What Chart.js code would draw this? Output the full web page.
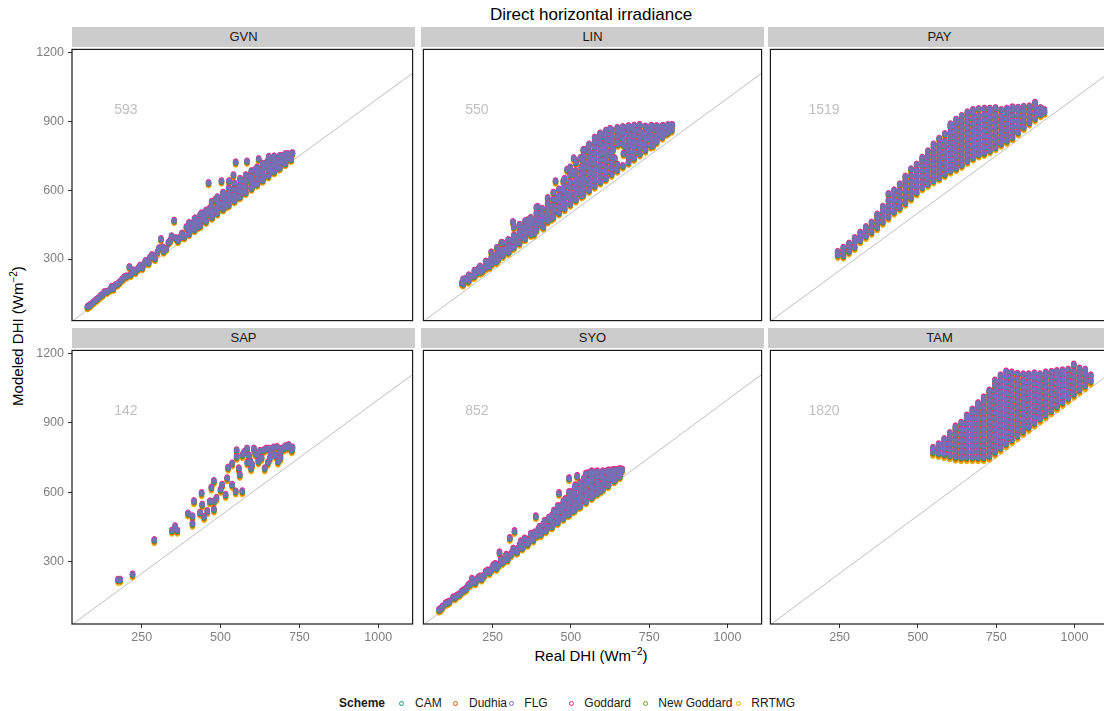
<!DOCTYPE html>
<html><head><meta charset="utf-8">
<script src="https://cdn.jsdelivr.net/npm/chart.js@4"></script>
<style>
html,body{margin:0;padding:0;background:#fff;overflow:hidden;}
#page{position:relative;width:1104px;height:711px;overflow:hidden;font-family:"Liberation Sans",Arial,sans-serif;background:#fff;}
.strip{position:absolute;height:20px;background:#cccccc;color:#1a1a1a;font-size:13px;text-align:center;line-height:20px;}
canvas{position:absolute;}
.txt{position:absolute;white-space:nowrap;}
.lg{position:absolute;font-size:12px;line-height:16px;top:695px;color:#1a1a1a;white-space:nowrap;}
.dot{position:absolute;width:3px;height:3px;border-radius:50%;top:700.5px;border:1px solid;box-sizing:content-box;}
</style></head>
<body><div id="page"></div>
<script>
// ---------- categories / labels ----------
const stations = ['GVN','LIN','PAY','SAP','SYO','TAM'];
const obsCounts = [593,550,1519,142,852,1820];
const schemes = ['CAM','Dudhia','FLG','Goddard','New Goddard','RRTMG'];
const xTicks = [250,500,750,1000];
const yTicks = [300,600,900,1200];
const identityLine = [0,1300];

// ---------- GVN ----------
const gvnReal = [78,88,105,120,132,150,160,168,180,195,211,215,230,245,252,262,272,282,292,305,311,320,335,345,353,365,378,385,392,402,410,420,430,440,450,462,466,474,484,494,503,508,518,527,534,541,548,556,564,574,584,590,600,610,621,630,640,653,660,672,684,694,704,714,722,728,
 84,96,112,126,140,155,174,188,202,222,238,258,276,288,300,316,328,340,358,372,396,414,426,446,458,470,488,498,514,524,538,552,560,570,580,596,606,616,626,636,646,656,666,678,690,700,710,720,
 400,400,400,418,418,418,436,436,436,454,454,454,472,472,472,472,490,490,490,490,508,508,508,508,526,526,526,526,544,544,544,544,562,562,562,562,580,580,580,580,598,598,598,598,616,616,616,616,634,634,634,634,652,652,652,652,670,670,670,670,688,688,688,706,706,706,724,724];
const gvnFLG = [92,102,122,140,157,168,172,188,200,222,266,232,245,272,262,292,284,318,302,348,388,334,372,400,468,380,412,396,440,418,456,478,442,500,470,632,522,486,560,526,640,582,532,640,602,666,722,570,642,612,726,662,614,690,736,644,706,746,682,732,696,750,716,758,736,762,
 98,112,130,146,158,180,192,212,226,252,258,280,306,312,330,352,346,380,392,396,428,436,462,476,500,510,514,540,556,580,566,600,620,590,640,648,630,670,690,660,720,700,710,720,730,740,735,752,
 410,434,458,428,452,476,446,470,494,464,488,512,482,506,530,550,500,524,548,570,518,542,566,590,536,560,584,610,554,578,602,630,572,596,620,650,590,614,638,666,608,632,656,684,626,650,674,700,644,668,692,716,662,686,710,735,680,704,728,748,698,722,750,716,740,758,734,758];
const gvnCAM = [89,99,119,137,154,165,169,185,197,219,263,229,242,269,259,289,281,315,299,345,385,331,369,397,465,377,409,393,437,415,453,475,439,497,467,629,519,483,557,523,637,579,529,637,599,663,719,567,639,609,723,659,611,687,733,641,703,743,679,729,693,747,713,755,733,759,
 95,109,127,143,155,177,189,209,223,249,255,277,303,309,327,349,343,377,389,393,425,433,459,473,497,507,511,537,553,577,563,597,617,587,637,645,627,667,687,657,717,697,707,717,727,737,732,749,
 407,431,455,425,449,473,443,467,491,461,485,509,479,503,527,547,497,521,545,567,515,539,563,587,533,557,581,607,551,575,599,627,569,593,617,647,587,611,635,663,605,629,653,681,623,647,671,697,641,665,689,713,659,683,707,732,677,701,725,745,695,719,747,713,737,755,731,755];
const gvnDudhia = [85,95,115,133,150,161,165,181,193,215,259,225,238,265,255,285,277,311,295,341,381,327,365,393,461,373,405,389,433,411,449,471,435,493,463,625,515,479,553,519,633,575,525,633,595,659,715,563,635,605,719,655,607,683,729,637,699,739,675,725,689,743,709,751,729,755,
 91,105,123,139,151,173,185,205,219,245,251,273,299,305,323,345,339,373,385,389,421,429,455,469,493,503,507,533,549,573,559,593,613,583,633,641,623,663,683,653,713,693,703,713,723,733,728,745,
 403,427,451,421,445,469,439,463,487,457,481,505,475,499,523,543,493,517,541,563,511,535,559,583,529,553,577,603,547,571,595,623,565,589,613,643,583,607,631,659,601,625,649,677,619,643,667,693,637,661,685,709,655,679,703,728,673,697,721,741,691,715,743,709,733,751,727,751];
const gvnGoddard = [96,106,126,144,161,172,176,192,204,226,270,236,249,276,266,296,288,322,306,352,392,338,376,404,472,384,416,400,444,422,460,482,446,504,474,636,526,490,564,530,644,586,536,644,606,670,726,574,646,616,730,666,618,694,740,648,710,750,686,736,700,754,720,762,740,766,
 102,116,134,150,162,184,196,216,230,256,262,284,310,316,334,356,350,384,396,400,432,440,466,480,504,514,518,544,560,584,570,604,624,594,644,652,634,674,694,664,724,704,714,724,734,744,739,756,
 414,438,462,432,456,480,450,474,498,468,492,516,486,510,534,554,504,528,552,574,522,546,570,594,540,564,588,614,558,582,606,634,576,600,624,654,594,618,642,670,612,636,660,688,630,654,678,704,648,672,696,720,666,690,714,739,684,708,732,752,702,726,754,720,744,762,738,762];
const gvnNewGoddard = [90,100,120,138,155,166,170,186,198,220,264,230,243,270,260,290,282,316,300,346,386,332,370,398,466,378,410,394,438,416,454,476,440,498,468,630,520,484,558,524,638,580,530,638,600,664,720,568,640,610,724,660,612,688,734,642,704,744,680,730,694,748,714,756,734,760,
 96,110,128,144,156,178,190,210,224,250,256,278,304,310,328,350,344,378,390,394,426,434,460,474,498,508,512,538,554,578,564,598,618,588,638,646,628,668,688,658,718,698,708,718,728,738,733,750,
 408,432,456,426,450,474,444,468,492,462,486,510,480,504,528,548,498,522,546,568,516,540,564,588,534,558,582,608,552,576,600,628,570,594,618,648,588,612,636,664,606,630,654,682,624,648,672,698,642,666,690,714,660,684,708,733,678,702,726,746,696,720,748,714,738,756,732,756];
const gvnRRTMG = [80,90,110,128,145,156,160,176,188,210,254,220,233,260,250,280,272,306,290,336,376,322,360,388,456,368,400,384,428,406,444,466,430,488,458,620,510,474,548,514,628,570,520,628,590,654,710,558,630,600,714,650,602,678,724,632,694,734,670,720,684,738,704,746,724,750,
 86,100,118,134,146,168,180,200,214,240,246,268,294,300,318,340,334,368,380,384,416,424,450,464,488,498,502,528,544,568,554,588,608,578,628,636,618,658,678,648,708,688,698,708,718,728,723,740,
 398,422,446,416,440,464,434,458,482,452,476,500,470,494,518,538,488,512,536,558,506,530,554,578,524,548,572,598,542,566,590,618,560,584,608,638,578,602,626,654,596,620,644,672,614,638,662,688,632,656,680,704,650,674,698,723,668,692,716,736,686,710,738,704,728,746,722,746];

// ---------- LIN ----------
const linReal = [152,160,172,185,198,205,218,230,240,252,262,272,278,285,296,305,315,318,328,340,350,362,370,382,394,400,412,425,438,451,455,462,472,480,488,495,502,509,515,525,534,541,550,560,570,580,593,600,610,618,625,635,645,655,668,680,690,700,712,719,730,742,752,762,775,785,795,805,815,824,
 165,178,192,212,224,236,248,258,268,290,300,310,322,334,346,356,366,376,388,406,418,432,444,466,476,492,506,520,530,546,556,566,576,586,596,606,614,630,640,650,662,674,686,696,706,724,736,748,758,770,780,790,800,810,820,
 540,540,540,540,540,540,540,540,540,558,558,558,558,558,558,558,558,558,576,576,576,576,576,576,576,576,576,576,594,594,594,594,594,594,594,594,594,594,
 612,612,612,612,612,612,612,612,612,612,630,630,630,630,630,630,630,630,630,648,648,648,648,648,648,666,666,666,666,666,
 684,684,684,684,684,684,684,684,702,702,702,702,702,702,702,720,720,720,720,720,720,738,738,738,738,738,756,756,756,756,756,774,774,774,774,792,792,792,810,810,810,822,822,
 156,156,174,174,192,192,210,210,228,228,246,246,246,264,264,264,282,282,282,300,300,300,318,318,318,318,336,336,336,336,354,354,354,354,372,372,372,372,
 390,390,390,390,390,408,408,408,408,426,426,426,426,426,444,444,444,444,444,462,462,462,462,462,480,480,480,480,480,480,498,498,498,498,498,498,498,516,516,516,516,516,516,516,534,534,534,534,534,534,534];
const linFLG = [196,208,205,225,238,258,250,278,268,300,290,330,372,322,350,340,462,400,372,420,392,470,430,410,528,462,440,500,478,640,560,505,600,540,690,620,560,740,660,600,700,776,640,740,680,810,846,760,650,820,868,780,690,850,760,872,810,740,860,884,800,870,830,795,876,840,880,848,878,884,
 215,222,232,245,262,286,282,310,300,340,330,380,390,402,440,420,450,470,450,500,480,530,520,560,640,580,680,640,740,700,790,720,760,700,800,840,760,820,740,800,860,790,840,870,800,850,830,860,880,820,860,850,870,860,870,
 582,606,630,654,678,702,726,750,776,600,624,648,672,696,720,744,768,800,618,642,666,690,714,738,762,786,810,830,636,660,684,708,732,756,780,804,828,848,
 652,676,700,724,748,772,796,820,844,860,670,694,718,742,766,790,814,838,862,688,712,808,832,856,872,706,802,826,850,876,
 722,746,770,794,818,842,866,880,740,764,788,812,836,860,882,758,782,806,830,854,884,775,799,823,847,878,793,817,841,865,880,812,836,860,880,832,856,880,852,870,884,862,884,
 192,212,208,230,226,250,244,268,262,290,280,306,330,298,322,350,316,340,370,334,358,384,352,378,404,440,370,396,420,450,390,414,440,466,408,432,458,480,
 428,452,476,500,526,446,470,494,520,466,490,514,540,566,484,508,532,558,590,502,526,550,576,604,520,544,568,592,618,650,540,564,588,612,636,666,700,558,582,606,630,656,684,720,576,600,624,648,672,700,740];
const linCAM = [193,205,202,222,235,255,247,275,265,297,287,327,369,319,347,337,459,397,369,417,389,467,427,407,525,459,437,497,475,637,557,502,597,537,687,617,557,737,657,597,697,773,637,737,677,807,843,757,647,817,865,777,687,847,757,869,807,737,857,881,797,867,827,792,873,837,877,845,875,881,
 212,219,229,242,259,283,279,307,297,337,327,377,387,399,437,417,447,467,447,497,477,527,517,557,637,577,677,637,737,697,787,717,757,697,797,837,757,817,737,797,857,787,837,867,797,847,827,857,877,817,857,847,867,857,867,
 579,603,627,651,675,699,723,747,773,597,621,645,669,693,717,741,765,797,615,639,663,687,711,735,759,783,807,827,633,657,681,705,729,753,777,801,825,845,
 649,673,697,721,745,769,793,817,841,857,667,691,715,739,763,787,811,835,859,685,709,805,829,853,869,703,799,823,847,873,
 719,743,767,791,815,839,863,877,737,761,785,809,833,857,879,755,779,803,827,851,881,772,796,820,844,875,790,814,838,862,877,809,833,857,877,829,853,877,849,867,881,859,881,
 189,209,205,227,223,247,241,265,259,287,277,303,327,295,319,347,313,337,367,331,355,381,349,375,401,437,367,393,417,447,387,411,437,463,405,429,455,477,
 425,449,473,497,523,443,467,491,517,463,487,511,537,563,481,505,529,555,587,499,523,547,573,601,517,541,565,589,615,647,537,561,585,609,633,663,697,555,579,603,627,653,681,717,573,597,621,645,669,697,737];
const linDudhia = [189,201,198,218,231,251,243,271,261,293,283,323,365,315,343,333,455,393,365,413,385,463,423,403,521,455,433,493,471,633,553,498,593,533,683,613,553,733,653,593,693,769,633,733,673,803,839,753,643,813,861,773,683,843,753,865,803,733,853,877,793,863,823,788,869,833,873,841,871,877,
 208,215,225,238,255,279,275,303,293,333,323,373,383,395,433,413,443,463,443,493,473,523,513,553,633,573,673,633,733,693,783,713,753,693,793,833,753,813,733,793,853,783,833,863,793,843,823,853,873,813,853,843,863,853,863,
 575,599,623,647,671,695,719,743,769,593,617,641,665,689,713,737,761,793,611,635,659,683,707,731,755,779,803,823,629,653,677,701,725,749,773,797,821,841,
 645,669,693,717,741,765,789,813,837,853,663,687,711,735,759,783,807,831,855,681,705,801,825,849,865,699,795,819,843,869,
 715,739,763,787,811,835,859,873,733,757,781,805,829,853,875,751,775,799,823,847,877,768,792,816,840,871,786,810,834,858,873,805,829,853,873,825,849,873,845,863,877,855,877,
 185,205,201,223,219,243,237,261,255,283,273,299,323,291,315,343,309,333,363,327,351,377,345,371,397,433,363,389,413,443,383,407,433,459,401,425,451,473,
 421,445,469,493,519,439,463,487,513,459,483,507,533,559,477,501,525,551,583,495,519,543,569,597,513,537,561,585,611,643,533,557,581,605,629,659,693,551,575,599,623,649,677,713,569,593,617,641,665,693,733];
const linGoddard = [200,212,209,229,242,262,254,282,272,304,294,334,376,326,354,344,466,404,376,424,396,474,434,414,532,466,444,504,482,644,564,509,604,544,694,624,564,744,664,604,704,780,644,744,684,814,850,764,654,824,872,784,694,854,764,876,814,744,864,888,804,874,834,799,880,844,884,852,882,888,
 219,226,236,249,266,290,286,314,304,344,334,384,394,406,444,424,454,474,454,504,484,534,524,564,644,584,684,644,744,704,794,724,764,704,804,844,764,824,744,804,864,794,844,874,804,854,834,864,884,824,864,854,874,864,874,
 586,610,634,658,682,706,730,754,780,604,628,652,676,700,724,748,772,804,622,646,670,694,718,742,766,790,814,834,640,664,688,712,736,760,784,808,832,852,
 656,680,704,728,752,776,800,824,848,864,674,698,722,746,770,794,818,842,866,692,716,812,836,860,876,710,806,830,854,880,
 726,750,774,798,822,846,870,884,744,768,792,816,840,864,886,762,786,810,834,858,888,779,803,827,851,882,797,821,845,869,884,816,840,864,884,836,860,884,856,874,888,866,888,
 196,216,212,234,230,254,248,272,266,294,284,310,334,302,326,354,320,344,374,338,362,388,356,382,408,444,374,400,424,454,394,418,444,470,412,436,462,484,
 432,456,480,504,530,450,474,498,524,470,494,518,544,570,488,512,536,562,594,506,530,554,580,608,524,548,572,596,622,654,544,568,592,616,640,670,704,562,586,610,634,660,688,724,580,604,628,652,676,704,744];
const linNewGoddard = [194,206,203,223,236,256,248,276,266,298,288,328,370,320,348,338,460,398,370,418,390,468,428,408,526,460,438,498,476,638,558,503,598,538,688,618,558,738,658,598,698,774,638,738,678,808,844,758,648,818,866,778,688,848,758,870,808,738,858,882,798,868,828,793,874,838,878,846,876,882,
 213,220,230,243,260,284,280,308,298,338,328,378,388,400,438,418,448,468,448,498,478,528,518,558,638,578,678,638,738,698,788,718,758,698,798,838,758,818,738,798,858,788,838,868,798,848,828,858,878,818,858,848,868,858,868,
 580,604,628,652,676,700,724,748,774,598,622,646,670,694,718,742,766,798,616,640,664,688,712,736,760,784,808,828,634,658,682,706,730,754,778,802,826,846,
 650,674,698,722,746,770,794,818,842,858,668,692,716,740,764,788,812,836,860,686,710,806,830,854,870,704,800,824,848,874,
 720,744,768,792,816,840,864,878,738,762,786,810,834,858,880,756,780,804,828,852,882,773,797,821,845,876,791,815,839,863,878,810,834,858,878,830,854,878,850,868,882,860,882,
 190,210,206,228,224,248,242,266,260,288,278,304,328,296,320,348,314,338,368,332,356,382,350,376,402,438,368,394,418,448,388,412,438,464,406,430,456,478,
 426,450,474,498,524,444,468,492,518,464,488,512,538,564,482,506,530,556,588,500,524,548,574,602,518,542,566,590,616,648,538,562,586,610,634,664,698,556,580,604,628,654,682,718,574,598,622,646,670,698,738];
const linRRTMG = [183,195,192,212,225,245,237,265,255,287,277,317,359,309,337,327,449,387,359,407,379,457,417,397,515,449,427,487,465,627,547,492,587,527,677,607,547,727,647,587,687,763,627,727,667,797,833,747,637,807,855,767,677,837,747,859,797,727,847,871,787,857,817,782,863,827,867,835,865,871,
 202,209,219,232,249,273,269,297,287,327,317,367,377,389,427,407,437,457,437,487,467,517,507,547,627,567,667,627,727,687,777,707,747,687,787,827,747,807,727,787,847,777,827,857,787,837,817,847,867,807,847,837,857,847,857,
 569,593,617,641,665,689,713,737,763,587,611,635,659,683,707,731,755,787,605,629,653,677,701,725,749,773,797,817,623,647,671,695,719,743,767,791,815,835,
 639,663,687,711,735,759,783,807,831,847,657,681,705,729,753,777,801,825,849,675,699,795,819,843,859,693,789,813,837,863,
 709,733,757,781,805,829,853,867,727,751,775,799,823,847,869,745,769,793,817,841,871,762,786,810,834,865,780,804,828,852,867,799,823,847,867,819,843,867,839,857,871,849,871,
 179,199,195,217,213,237,231,255,249,277,267,293,317,285,309,337,303,327,357,321,345,371,339,365,391,427,357,383,407,437,377,401,427,453,395,419,445,467,
 415,439,463,487,513,433,457,481,507,453,477,501,527,553,471,495,519,545,577,489,513,537,563,591,507,531,555,579,605,637,527,551,575,599,623,653,687,545,569,593,617,643,671,707,563,587,611,635,659,687,727];

// ---------- PAY ----------
const payReal = [244,244,262,262,262,280,280,280,298,298,298,316,316,316,334,334,334,352,352,352,
 370,370,370,370,388,388,388,388,406,406,406,406,406,424,424,424,424,424,442,442,442,442,442,
 460,460,460,460,460,460,478,478,478,478,478,478,496,496,496,496,496,496,
 514,514,514,514,514,514,514,532,532,532,532,532,532,532,
 550,550,550,550,550,550,550,550,568,568,568,568,568,568,568,568,586,586,586,586,586,586,586,586,
 604,604,604,604,604,604,604,604,604,604,622,622,622,622,622,622,622,622,622,622,
 640,640,640,640,640,640,640,640,640,640,658,658,658,658,658,658,658,658,658,658,
 676,676,676,676,676,676,676,676,676,676,694,694,694,694,694,694,694,694,694,
 712,712,712,712,712,712,712,712,712,730,730,730,730,730,730,730,730,730,
 748,748,748,748,748,748,748,748,766,766,766,766,766,766,766,784,784,784,784,784,784,784,
 802,802,802,802,802,802,802,820,820,820,820,820,820,838,838,838,838,838,
 856,856,856,856,874,874,874,874,892,892,892,904,904];
const payFLG = [318,332,315,335,350,333,352,368,352,374,392,382,400,416,400,422,440,418,440,460,
 438,460,480,495,462,485,508,528,484,508,532,556,584,506,530,554,578,600,524,548,572,596,626,
 545,569,593,617,641,660,567,591,615,639,663,692,590,614,638,662,686,712,
 612,636,660,684,708,728,742,627,651,675,699,723,747,770,
 642,666,690,714,738,762,786,800,655,679,703,727,751,775,799,825,669,693,717,741,765,789,813,845,
 685,709,733,757,781,805,829,853,877,888,696,720,744,768,792,816,840,864,888,908,
 710,734,758,782,806,830,854,878,902,924,727,751,775,799,823,847,871,895,919,940,
 742,766,790,814,838,862,886,910,934,950,755,779,803,827,851,875,899,923,954,
 762,786,810,834,858,882,906,930,956,773,797,821,845,869,893,917,941,956,
 786,810,834,858,882,906,930,958,802,826,850,874,898,922,950,815,839,863,887,911,935,956,
 830,854,878,902,926,950,962,852,876,900,924,948,960,874,898,922,946,964,
 894,918,942,966,912,936,960,982,930,946,958,940,950];
const payCAM = [315,329,312,332,347,330,349,365,349,371,389,379,397,413,397,419,437,415,437,457,
 435,457,477,492,459,482,505,525,481,505,529,553,581,503,527,551,575,597,521,545,569,593,623,
 542,566,590,614,638,657,564,588,612,636,660,689,587,611,635,659,683,709,
 609,633,657,681,705,725,739,624,648,672,696,720,744,767,
 639,663,687,711,735,759,783,797,652,676,700,724,748,772,796,822,666,690,714,738,762,786,810,842,
 682,706,730,754,778,802,826,850,874,885,693,717,741,765,789,813,837,861,885,905,
 707,731,755,779,803,827,851,875,899,921,724,748,772,796,820,844,868,892,916,937,
 739,763,787,811,835,859,883,907,931,947,752,776,800,824,848,872,896,920,951,
 759,783,807,831,855,879,903,927,953,770,794,818,842,866,890,914,938,953,
 783,807,831,855,879,903,927,955,799,823,847,871,895,919,947,812,836,860,884,908,932,953,
 827,851,875,899,923,947,959,849,873,897,921,945,957,871,895,919,943,961,
 891,915,939,963,909,933,957,979,927,943,955,937,947];
const payDudhia = [311,325,308,328,343,326,345,361,345,367,385,375,393,409,393,415,433,411,433,453,
 431,453,473,488,455,478,501,521,477,501,525,549,577,499,523,547,571,593,517,541,565,589,619,
 538,562,586,610,634,653,560,584,608,632,656,685,583,607,631,655,679,705,
 605,629,653,677,701,721,735,620,644,668,692,716,740,763,
 635,659,683,707,731,755,779,793,648,672,696,720,744,768,792,818,662,686,710,734,758,782,806,838,
 678,702,726,750,774,798,822,846,870,881,689,713,737,761,785,809,833,857,881,901,
 703,727,751,775,799,823,847,871,895,917,720,744,768,792,816,840,864,888,912,933,
 735,759,783,807,831,855,879,903,927,943,748,772,796,820,844,868,892,916,947,
 755,779,803,827,851,875,899,923,949,766,790,814,838,862,886,910,934,949,
 779,803,827,851,875,899,923,951,795,819,843,867,891,915,943,808,832,856,880,904,928,949,
 823,847,871,895,919,943,955,845,869,893,917,941,953,867,891,915,939,957,
 887,911,935,959,905,929,953,975,923,939,951,933,943];
const payGoddard = [322,336,319,339,354,337,356,372,356,378,396,386,404,420,404,426,444,422,444,464,
 442,464,484,499,466,489,512,532,488,512,536,560,588,510,534,558,582,604,528,552,576,600,630,
 549,573,597,621,645,664,571,595,619,643,667,696,594,618,642,666,690,716,
 616,640,664,688,712,732,746,631,655,679,703,727,751,774,
 646,670,694,718,742,766,790,804,659,683,707,731,755,779,803,829,673,697,721,745,769,793,817,849,
 689,713,737,761,785,809,833,857,881,892,700,724,748,772,796,820,844,868,892,912,
 714,738,762,786,810,834,858,882,906,928,731,755,779,803,827,851,875,899,923,944,
 746,770,794,818,842,866,890,914,938,954,759,783,807,831,855,879,903,927,958,
 766,790,814,838,862,886,910,934,960,777,801,825,849,873,897,921,945,960,
 790,814,838,862,886,910,934,962,806,830,854,878,902,926,954,819,843,867,891,915,939,960,
 834,858,882,906,930,954,966,856,880,904,928,952,964,878,902,926,950,968,
 898,922,946,970,916,940,964,986,934,950,962,944,954];
const payNewGoddard = [316,330,313,333,348,331,350,366,350,372,390,380,398,414,398,420,438,416,438,458,
 436,458,478,493,460,483,506,526,482,506,530,554,582,504,528,552,576,598,522,546,570,594,624,
 543,567,591,615,639,658,565,589,613,637,661,690,588,612,636,660,684,710,
 610,634,658,682,706,726,740,625,649,673,697,721,745,768,
 640,664,688,712,736,760,784,798,653,677,701,725,749,773,797,823,667,691,715,739,763,787,811,843,
 683,707,731,755,779,803,827,851,875,886,694,718,742,766,790,814,838,862,886,906,
 708,732,756,780,804,828,852,876,900,922,725,749,773,797,821,845,869,893,917,938,
 740,764,788,812,836,860,884,908,932,948,753,777,801,825,849,873,897,921,952,
 760,784,808,832,856,880,904,928,954,771,795,819,843,867,891,915,939,954,
 784,808,832,856,880,904,928,956,800,824,848,872,896,920,948,813,837,861,885,909,933,954,
 828,852,876,900,924,948,960,850,874,898,922,946,958,872,896,920,944,962,
 892,916,940,964,910,934,958,980,928,944,956,938,948];
const payRRTMG = [304,318,301,321,336,319,338,354,338,360,378,368,386,402,386,408,426,404,426,446,
 424,446,466,481,448,471,494,514,470,494,518,542,570,492,516,540,564,586,510,534,558,582,612,
 531,555,579,603,627,646,553,577,601,625,649,678,576,600,624,648,672,698,
 598,622,646,670,694,714,728,613,637,661,685,709,733,756,
 628,652,676,700,724,748,772,786,641,665,689,713,737,761,785,811,655,679,703,727,751,775,799,831,
 671,695,719,743,767,791,815,839,863,874,682,706,730,754,778,802,826,850,874,894,
 696,720,744,768,792,816,840,864,888,910,713,737,761,785,809,833,857,881,905,926,
 728,752,776,800,824,848,872,896,920,936,741,765,789,813,837,861,885,909,940,
 748,772,796,820,844,868,892,916,942,759,783,807,831,855,879,903,927,942,
 772,796,820,844,868,892,916,944,788,812,836,860,884,908,936,801,825,849,873,897,921,942,
 816,840,864,888,912,936,948,838,862,886,910,934,946,860,884,908,932,950,
 880,904,928,952,898,922,946,968,916,932,944,926,936];

// ---------- SAP ----------
const sapReal = [175,182,221,290,346,356,363,397,411,411,416,435,440,442,448,458,466,471,479,479,479,487,500,505,516,521,524,537,537,548,551,551,558,561,569,569,584,595,597,606,616,625,637,640,653,656,668,679,682,695,705,716,726,728,620,665,
 575,590,610,630,645,660,675,690,700,712,585,600,650,690];
const sapFLG = [224,224,247,395,436,455,436,510,498,466,563,513,598,548,495,520,562,622,650,562,527,577,612,634,590,662,708,634,726,605,783,754,705,677,606,762,790,734,705,790,762,780,783,705,790,748,795,797,734,790,800,805,783,795,735,770,
 775,760,770,750,790,770,760,775,790,795,730,720,730,750];
const sapCAM = [220,220,243,391,432,451,432,506,494,462,559,509,594,544,491,516,558,618,646,558,523,573,608,630,586,658,704,630,722,601,779,750,701,673,602,758,786,730,701,786,758,776,779,701,786,744,791,793,730,786,796,801,779,791,731,766,
 771,756,766,746,786,766,756,771,786,791,726,716,726,746];
const sapDudhia = [216,216,239,387,428,447,428,502,490,458,555,505,590,540,487,512,554,614,642,554,519,569,604,626,582,654,700,626,718,597,775,746,697,669,598,754,782,726,697,782,754,772,775,697,782,740,787,789,726,782,792,797,775,787,727,762,
 767,752,762,742,782,762,752,767,782,787,722,712,722,742];
const sapGoddard = [228,228,251,399,440,459,440,514,502,470,567,517,602,552,499,524,566,626,654,566,531,581,616,638,594,666,712,638,730,609,787,758,709,681,610,766,794,738,709,794,766,784,787,709,794,752,799,801,738,794,804,809,787,799,739,774,
 779,764,774,754,794,774,764,779,794,799,734,724,734,754];
const sapNewGoddard = [222,222,245,393,434,453,434,508,496,464,561,511,596,546,493,518,560,620,648,560,525,575,610,632,588,660,706,632,724,603,781,752,703,675,604,760,788,732,703,788,760,778,781,703,788,746,793,795,732,788,798,803,781,793,733,768,
 773,758,768,748,788,768,758,773,788,793,728,718,728,748];
const sapRRTMG = [209,209,232,380,421,440,421,495,483,451,548,498,583,533,480,505,547,607,635,547,512,562,597,619,575,647,693,619,711,590,768,739,690,662,591,747,775,719,690,775,747,765,768,690,775,733,780,782,719,775,785,790,768,780,720,755,
 760,745,755,735,775,755,745,760,775,780,715,705,715,735];

// ---------- SYO ----------
const syoReal = [79,84,100,106,124,130,145,160,172,184,195,205,215,228,240,252,262,272,280,290,298,305,312,320,328,336,345,352,362,372,380,388,396,404,412,420,430,438,446,454,462,468,475,482,490,494,500,506,514,520,526,534,542,548,556,562,570,578,586,594,602,610,618,626,634,642,650,658,664,
 90,112,136,152,166,178,190,200,210,222,234,246,258,268,276,286,294,308,316,332,340,348,358,366,376,384,392,400,408,416,426,434,442,450,458,466,472,478,486,496,504,510,518,530,538,544,552,558,566,574,582,590,598,606,614,622,630,638,646,654,
 440,440,440,458,458,458,458,476,476,476,476,494,494,494,494,494,512,512,512,512,512,530,530,530,530,530,548,548,548,548,548,548,566,566,566,566,566,566,584,584,584,584,584,602,602,602,602,620,620,620,620,638,638,638,656,656,656];
const syoFLG = [92,96,120,124,146,145,160,178,198,226,210,232,226,256,254,284,272,340,296,320,310,402,340,432,342,372,360,400,376,420,394,496,440,418,462,434,490,452,520,472,596,540,490,570,504,660,600,520,630,670,540,610,660,562,682,640,584,686,640,606,688,660,630,690,670,656,694,680,698,
 106,128,154,172,184,204,212,224,236,240,262,266,290,284,310,304,330,330,356,356,388,370,396,390,410,426,414,450,430,476,450,480,460,500,480,520,490,540,510,560,530,590,550,580,630,580,650,600,660,620,670,630,680,640,690,660,694,680,696,690,
 452,476,500,470,494,518,540,488,512,536,560,506,530,554,578,600,524,548,572,596,620,542,566,590,614,640,560,584,608,632,656,680,578,602,626,650,674,690,596,620,644,668,690,614,638,662,690,632,656,680,694,650,674,696,668,690,700];
const syoCAM = [89,93,117,121,143,142,157,175,195,223,207,229,223,253,251,281,269,337,293,317,307,399,337,429,339,369,357,397,373,417,391,493,437,415,459,431,487,449,517,469,593,537,487,567,501,657,597,517,627,667,537,607,657,559,679,637,581,683,637,603,685,657,627,687,667,653,691,677,695,
 103,125,151,169,181,201,209,221,233,237,259,263,287,281,307,301,327,327,353,353,385,367,393,387,407,423,411,447,427,473,447,477,457,497,477,517,487,537,507,557,527,587,547,577,627,577,647,597,657,617,667,627,677,637,687,657,691,677,693,687,
 449,473,497,467,491,515,537,485,509,533,557,503,527,551,575,597,521,545,569,593,617,539,563,587,611,637,557,581,605,629,653,677,575,599,623,647,671,687,593,617,641,665,687,611,635,659,687,629,653,677,691,647,671,693,665,687,697];
const syoDudhia = [86,90,114,118,140,139,154,172,192,220,204,226,220,250,248,278,266,334,290,314,304,396,334,426,336,366,354,394,370,414,388,490,434,412,456,428,484,446,514,466,590,534,484,564,498,654,594,514,624,664,534,604,654,556,676,634,578,680,634,600,682,654,624,684,664,650,688,674,692,
 100,122,148,166,178,198,206,218,230,234,256,260,284,278,304,298,324,324,350,350,382,364,390,384,404,420,408,444,424,470,444,474,454,494,474,514,484,534,504,554,524,584,544,574,624,574,644,594,654,614,664,624,674,634,684,654,688,674,690,684,
 446,470,494,464,488,512,534,482,506,530,554,500,524,548,572,594,518,542,566,590,614,536,560,584,608,634,554,578,602,626,650,674,572,596,620,644,668,684,590,614,638,662,684,608,632,656,684,626,650,674,688,644,668,690,662,684,694];
const syoGoddard = [98,102,126,130,152,151,166,184,204,232,216,238,232,262,260,290,278,346,302,326,316,408,346,438,348,378,366,406,382,426,400,502,446,424,468,440,496,458,526,478,602,546,496,576,510,666,606,526,636,676,546,616,666,568,688,646,590,692,646,612,694,666,636,696,676,662,700,686,704,
 112,134,160,178,190,210,218,230,242,246,268,272,296,290,316,310,336,336,362,362,394,376,402,396,416,432,420,456,436,482,456,486,466,506,486,526,496,546,516,566,536,596,556,586,636,586,656,606,666,626,676,636,686,646,696,666,700,686,702,696,
 458,482,506,476,500,524,546,494,518,542,566,512,536,560,584,606,530,554,578,602,626,548,572,596,620,646,566,590,614,638,662,686,584,608,632,656,680,696,602,626,650,674,696,620,644,668,696,638,662,686,700,656,680,702,674,696,706];
const syoNewGoddard = [90,94,118,122,144,143,158,176,196,224,208,230,224,254,252,282,270,338,294,318,308,400,338,430,340,370,358,398,374,418,392,494,438,416,460,432,488,450,518,470,594,538,488,568,502,658,598,518,628,668,538,608,658,560,680,638,582,684,638,604,686,658,628,688,668,654,692,678,696,
 104,126,152,170,182,202,210,222,234,238,260,264,288,282,308,302,328,328,354,354,386,368,394,388,408,424,412,448,428,474,448,478,458,498,478,518,488,538,508,558,528,588,548,578,628,578,648,598,658,618,668,628,678,638,688,658,692,678,694,688,
 450,474,498,468,492,516,538,486,510,534,558,504,528,552,576,598,522,546,570,594,618,540,564,588,612,638,558,582,606,630,654,678,576,600,624,648,672,688,594,618,642,666,688,612,636,660,688,630,654,678,692,648,672,694,666,688,698];
const syoRRTMG = [80,84,108,112,134,133,148,166,186,214,198,220,214,244,242,272,260,328,284,308,298,390,328,420,330,360,348,388,364,408,382,484,428,406,450,422,478,440,508,460,584,528,478,558,492,648,588,508,618,658,528,598,648,550,670,628,572,674,628,594,676,648,618,678,658,644,682,668,686,
 94,116,142,160,172,192,200,212,224,228,250,254,278,272,298,292,318,318,344,344,376,358,384,378,398,414,402,438,418,464,438,468,448,488,468,508,478,528,498,548,518,578,538,568,618,568,638,588,648,608,658,618,668,628,678,648,682,668,684,678,
 440,464,488,458,482,506,528,476,500,524,548,494,518,542,566,588,512,536,560,584,608,530,554,578,602,628,548,572,596,620,644,668,566,590,614,638,662,678,584,608,632,656,678,602,626,650,678,620,644,668,682,638,662,684,656,678,688];

// ---------- TAM ----------
const tamReal = [548,548,566,566,566,584,584,584,584,602,602,602,602,602,
 620,620,620,620,620,620,620,638,638,638,638,638,638,638,
 656,656,656,656,656,656,656,656,656,674,674,674,674,674,674,674,674,674,674,
 692,692,692,692,692,692,692,692,692,692,692,710,710,710,710,710,710,710,710,710,710,710,710,
 728,728,728,728,728,728,728,728,728,728,728,728,728,
 746,746,746,746,746,746,746,746,746,746,746,746,746,746,
 764,764,764,764,764,764,764,764,764,764,764,764,764,764,
 782,782,782,782,782,782,782,782,782,782,782,782,782,782,
 800,800,800,800,800,800,800,800,800,800,800,800,800,
 818,818,818,818,818,818,818,818,818,818,818,818,
 836,836,836,836,836,836,836,836,836,836,836,854,854,854,854,854,854,854,854,854,854,854,
 872,872,872,872,872,872,872,872,872,872,890,890,890,890,890,890,890,890,890,
 908,908,908,908,908,908,908,908,908,926,926,926,926,926,926,926,926,
 944,944,944,944,944,944,944,944,962,962,962,962,962,962,962,
 980,980,980,980,980,980,998,998,998,998,998,998,1016,1016,1016,1016,1016,1034,1034,1034,1034,1052,1052];
const tamFLG = [775,792,770,790,808,765,789,810,830,760,784,808,832,856,
 754,778,802,826,850,874,885,752,776,800,824,848,872,900,
 752,776,800,824,848,872,896,920,932,752,776,800,824,848,872,896,920,944,958,
 752,776,800,824,848,872,896,920,944,968,985,752,776,800,824,848,872,896,920,944,968,992,1010,
 758,782,806,830,854,878,902,926,950,974,998,1022,1040,
 775,799,823,847,871,895,919,943,967,991,1015,1039,1063,1083,
 793,817,841,865,889,913,937,961,985,1009,1033,1057,1081,1105,
 811,835,859,883,907,931,955,979,1003,1027,1051,1075,1099,1122,
 829,853,877,901,925,949,973,997,1021,1045,1069,1093,1118,
 847,871,895,919,943,967,991,1015,1039,1063,1087,1112,
 865,889,913,937,961,985,1009,1033,1057,1081,1110,883,907,931,955,979,1003,1027,1051,1075,1099,1110,
 901,925,949,973,997,1021,1045,1069,1093,1114,919,943,967,991,1015,1039,1063,1087,1110,
 936,960,984,1008,1032,1056,1080,1104,1118,954,978,1002,1026,1050,1074,1098,1120,
 972,996,1020,1044,1068,1092,1110,1124,990,1014,1038,1062,1086,1110,1127,
 1008,1032,1056,1080,1104,1130,1026,1050,1074,1098,1122,1152,1044,1068,1092,1116,1135,1062,1086,1110,1130,1082,1105];
const tamCAM = [771,788,766,786,804,761,785,806,826,756,780,804,828,852,
 750,774,798,822,846,870,881,748,772,796,820,844,868,896,
 748,772,796,820,844,868,892,916,928,748,772,796,820,844,868,892,916,940,954,
 748,772,796,820,844,868,892,916,940,964,981,748,772,796,820,844,868,892,916,940,964,988,1006,
 754,778,802,826,850,874,898,922,946,970,994,1018,1036,
 771,795,819,843,867,891,915,939,963,987,1011,1035,1059,1079,
 789,813,837,861,885,909,933,957,981,1005,1029,1053,1077,1101,
 807,831,855,879,903,927,951,975,999,1023,1047,1071,1095,1118,
 825,849,873,897,921,945,969,993,1017,1041,1065,1089,1114,
 843,867,891,915,939,963,987,1011,1035,1059,1083,1108,
 861,885,909,933,957,981,1005,1029,1053,1077,1106,879,903,927,951,975,999,1023,1047,1071,1095,1106,
 897,921,945,969,993,1017,1041,1065,1089,1110,915,939,963,987,1011,1035,1059,1083,1106,
 932,956,980,1004,1028,1052,1076,1100,1114,950,974,998,1022,1046,1070,1094,1116,
 968,992,1016,1040,1064,1088,1106,1120,986,1010,1034,1058,1082,1106,1123,
 1004,1028,1052,1076,1100,1126,1022,1046,1070,1094,1118,1148,1040,1064,1088,1112,1131,1058,1082,1106,1126,1078,1101];
const tamDudhia = [766,783,761,781,799,756,780,801,821,751,775,799,823,847,
 745,769,793,817,841,865,876,743,767,791,815,839,863,891,
 743,767,791,815,839,863,887,911,923,743,767,791,815,839,863,887,911,935,949,
 743,767,791,815,839,863,887,911,935,959,976,743,767,791,815,839,863,887,911,935,959,983,1001,
 749,773,797,821,845,869,893,917,941,965,989,1013,1031,
 766,790,814,838,862,886,910,934,958,982,1006,1030,1054,1074,
 784,808,832,856,880,904,928,952,976,1000,1024,1048,1072,1096,
 802,826,850,874,898,922,946,970,994,1018,1042,1066,1090,1113,
 820,844,868,892,916,940,964,988,1012,1036,1060,1084,1109,
 838,862,886,910,934,958,982,1006,1030,1054,1078,1103,
 856,880,904,928,952,976,1000,1024,1048,1072,1101,874,898,922,946,970,994,1018,1042,1066,1090,1101,
 892,916,940,964,988,1012,1036,1060,1084,1105,910,934,958,982,1006,1030,1054,1078,1101,
 927,951,975,999,1023,1047,1071,1095,1109,945,969,993,1017,1041,1065,1089,1111,
 963,987,1011,1035,1059,1083,1101,1115,981,1005,1029,1053,1077,1101,1118,
 999,1023,1047,1071,1095,1121,1017,1041,1065,1089,1113,1143,1035,1059,1083,1107,1126,1053,1077,1101,1121,1073,1096];
const tamGoddard = [780,797,775,795,813,770,794,815,835,765,789,813,837,861,
 759,783,807,831,855,879,890,757,781,805,829,853,877,905,
 757,781,805,829,853,877,901,925,937,757,781,805,829,853,877,901,925,949,963,
 757,781,805,829,853,877,901,925,949,973,990,757,781,805,829,853,877,901,925,949,973,997,1015,
 763,787,811,835,859,883,907,931,955,979,1003,1027,1045,
 780,804,828,852,876,900,924,948,972,996,1020,1044,1068,1088,
 798,822,846,870,894,918,942,966,990,1014,1038,1062,1086,1110,
 816,840,864,888,912,936,960,984,1008,1032,1056,1080,1104,1127,
 834,858,882,906,930,954,978,1002,1026,1050,1074,1098,1123,
 852,876,900,924,948,972,996,1020,1044,1068,1092,1117,
 870,894,918,942,966,990,1014,1038,1062,1086,1115,888,912,936,960,984,1008,1032,1056,1080,1104,1115,
 906,930,954,978,1002,1026,1050,1074,1098,1119,924,948,972,996,1020,1044,1068,1092,1115,
 941,965,989,1013,1037,1061,1085,1109,1123,959,983,1007,1031,1055,1079,1103,1125,
 977,1001,1025,1049,1073,1097,1115,1129,995,1019,1043,1067,1091,1115,1132,
 1013,1037,1061,1085,1109,1135,1031,1055,1079,1103,1127,1157,1049,1073,1097,1121,1140,1067,1091,1115,1135,1087,1110];
const tamNewGoddard = [773,790,768,788,806,763,787,808,828,758,782,806,830,854,
 752,776,800,824,848,872,883,750,774,798,822,846,870,898,
 750,774,798,822,846,870,894,918,930,750,774,798,822,846,870,894,918,942,956,
 750,774,798,822,846,870,894,918,942,966,983,750,774,798,822,846,870,894,918,942,966,990,1008,
 756,780,804,828,852,876,900,924,948,972,996,1020,1038,
 773,797,821,845,869,893,917,941,965,989,1013,1037,1061,1081,
 791,815,839,863,887,911,935,959,983,1007,1031,1055,1079,1103,
 809,833,857,881,905,929,953,977,1001,1025,1049,1073,1097,1120,
 827,851,875,899,923,947,971,995,1019,1043,1067,1091,1116,
 845,869,893,917,941,965,989,1013,1037,1061,1085,1110,
 863,887,911,935,959,983,1007,1031,1055,1079,1108,881,905,929,953,977,1001,1025,1049,1073,1097,1108,
 899,923,947,971,995,1019,1043,1067,1091,1112,917,941,965,989,1013,1037,1061,1085,1108,
 934,958,982,1006,1030,1054,1078,1102,1116,952,976,1000,1024,1048,1072,1096,1118,
 970,994,1018,1042,1066,1090,1108,1122,988,1012,1036,1060,1084,1108,1125,
 1006,1030,1054,1078,1102,1128,1024,1048,1072,1096,1120,1150,1042,1066,1090,1114,1133,1060,1084,1108,1128,1080,1103];
const tamRRTMG = [757,774,752,772,790,747,771,792,812,742,766,790,814,838,
 736,760,784,808,832,856,867,734,758,782,806,830,854,882,
 734,758,782,806,830,854,878,902,914,734,758,782,806,830,854,878,902,926,940,
 734,758,782,806,830,854,878,902,926,950,967,734,758,782,806,830,854,878,902,926,950,974,992,
 740,764,788,812,836,860,884,908,932,956,980,1004,1022,
 757,781,805,829,853,877,901,925,949,973,997,1021,1045,1065,
 775,799,823,847,871,895,919,943,967,991,1015,1039,1063,1087,
 793,817,841,865,889,913,937,961,985,1009,1033,1057,1081,1104,
 811,835,859,883,907,931,955,979,1003,1027,1051,1075,1100,
 829,853,877,901,925,949,973,997,1021,1045,1069,1094,
 847,871,895,919,943,967,991,1015,1039,1063,1092,865,889,913,937,961,985,1009,1033,1057,1081,1092,
 883,907,931,955,979,1003,1027,1051,1075,1096,901,925,949,973,997,1021,1045,1069,1092,
 918,942,966,990,1014,1038,1062,1086,1100,936,960,984,1008,1032,1056,1080,1102,
 954,978,1002,1026,1050,1074,1092,1106,972,996,1020,1044,1068,1092,1109,
 990,1014,1038,1062,1086,1112,1008,1032,1056,1080,1104,1134,1026,1050,1074,1098,1117,1044,1068,1092,1112,1064,1087];

// ---------- assembly (built from the arrays above) ----------
const panels = [
  {real: gvnReal, vals: [gvnCAM, gvnDudhia, gvnFLG, gvnGoddard, gvnNewGoddard, gvnRRTMG]},
  {real: linReal, vals: [linCAM, linDudhia, linFLG, linGoddard, linNewGoddard, linRRTMG]},
  {real: payReal, vals: [payCAM, payDudhia, payFLG, payGoddard, payNewGoddard, payRRTMG]},
  {real: sapReal, vals: [sapCAM, sapDudhia, sapFLG, sapGoddard, sapNewGoddard, sapRRTMG]},
  {real: syoReal, vals: [syoCAM, syoDudhia, syoFLG, syoGoddard, syoNewGoddard, syoRRTMG]},
  {real: tamReal, vals: [tamCAM, tamDudhia, tamFLG, tamGoddard, tamNewGoddard, tamRRTMG]}
];

// ---------- styling / layout ----------
const schemeColors = ['#1B9E77','#D95F02','#7570B3','#E7298A','#66A61E','#E6AB02'];
const drawOrder = [2,4,0,1,3,5];   // FLG drawn on top
const FONT = '"Liberation Sans", Arial, sans-serif';
const X_MIN = 29, X_MAX = 1109, Y_MIN = 31.7, Y_MAX = 1213;
const ANNOT_X = 200, ANNOT_Y = 950;
const panelLeft = [72, 421, 768], panelTop = [47, 348];
const PW = 343, PH = 276, YAXW = 52, XAXH = 22;

Chart.defaults.font.family = FONT;
const page = document.getElementById('page');

function addDiv(cls, html, style) {
  const d = document.createElement('div');
  d.className = cls; d.innerHTML = html;
  Object.assign(d.style, style);
  page.appendChild(d);
  return d;
}

addDiv('txt', 'Direct horizontal irradiance', {left:'391px', width:'400px', textAlign:'center', top:'4px', fontSize:'17px', lineHeight:'22px', color:'#000'});
addDiv('txt', 'Real DHI (Wm<sup style="font-size:10px;vertical-align:6px;line-height:0">\u22122</sup>)', {left:'441px', width:'300px', textAlign:'center', top:'647px', fontSize:'15px', lineHeight:'18px', color:'#000'});
addDiv('txt', 'Modeled DHI (Wm<sup style="font-size:10px;vertical-align:6px;line-height:0">\u22122</sup>)', {left:'-132px', width:'300px', textAlign:'center', top:'327px', fontSize:'15px', lineHeight:'18px', color:'#000', transform:'rotate(-90deg)'});

addDiv('lg', '<b>Scheme</b>', {left:'339px'});
const legendDotX = [401.7, 455.7, 511, 571, 645, 738];
schemes.forEach((s, i) => {
  addDiv('dot', '', {left:(legendDotX[i]-2.5)+'px', borderColor: schemeColors[i]});
  addDiv('lg', s, {left:(legendDotX[i]+13.3)+'px'});
});

const decorPlugin = {
  id: 'panelDecor',
  afterDatasetsDraw(chart, args, opts) {
    const {ctx, chartArea: a, scales} = chart;
    ctx.save();
    ctx.fillStyle = '#C0C0C0';
    ctx.font = '14px ' + FONT;
    ctx.textAlign = 'center'; ctx.textBaseline = 'middle';
    ctx.fillText(opts.label, scales.x.getPixelForValue(ANNOT_X), scales.y.getPixelForValue(ANNOT_Y));
    ctx.strokeStyle = '#1a1a1a'; ctx.lineWidth = 1.2;
    ctx.strokeRect(a.left, a.top, a.right - a.left, a.bottom - a.top);
    ctx.restore();
  }
};

function zeroPad(s) { s.paddingTop = 0; s.paddingBottom = 0; s.paddingLeft = 0; s.paddingRight = 0; }

stations.forEach((st, idx) => {
  const col = idx % 3, row = Math.floor(idx / 3);
  const isLeft = col === 0, isBottom = row === 1;
  const left = panelLeft[col], top = panelTop[row];

  addDiv('strip', st, {left: left + 'px', top: (top - 20) + 'px', width: PW + 'px'});

  const lw = isLeft ? YAXW : 1;
  const bh = isBottom ? XAXH : 1;
  const w = lw + PW + 1, h = 1 + PH + bh;
  const cv = document.createElement('canvas');
  cv.width = w; cv.height = h;
  Object.assign(cv.style, {left: (left - lw) + 'px', top: (top - 1) + 'px', width: w + 'px', height: h + 'px'});
  page.appendChild(cv);

  const p = panels[idx];
  const datasets = schemes.map((s, k) => ({
    label: s,
    data: p.real.map((x, i) => ({x: x, y: p.vals[k][i]})),
    borderColor: schemeColors[k],
    backgroundColor: schemeColors[k],
    pointRadius: 2.4,
    pointBorderWidth: 1,
    pointHoverRadius: 2.4,
    order: drawOrder[k]
  }));
  datasets.push({
    type: 'line', label: 'identity',
    data: identityLine.map(v => ({x: v, y: v})),
    borderColor: '#BFBFBF', borderWidth: 1, pointRadius: 0, order: 10, fill: false
  });

  const tickFont = {size: 12.5, family: FONT};
  const xScale = {
    type: 'linear', min: X_MIN, max: X_MAX, display: isBottom,
    afterBuildTicks: s => { s.ticks = xTicks.map(v => ({value: v})); },
    afterFit: s => { zeroPad(s); if (isBottom) s.height = XAXH; },
    grid: {drawOnChartArea: false, drawTicks: true, tickLength: 4, color: '#333333', lineWidth: 1},
    border: {display: false},
    ticks: {color: '#7F7F7F', font: tickFont, padding: 2, maxRotation: 0, autoSkip: false, callback: v => String(v)}
  };
  const yScale = {
    type: 'linear', min: Y_MIN, max: Y_MAX, display: isLeft,
    afterBuildTicks: s => { s.ticks = yTicks.map(v => ({value: v})); },
    afterFit: s => { zeroPad(s); if (isLeft) s.width = YAXW; },
    grid: {drawOnChartArea: false, drawTicks: true, tickLength: 4, color: '#333333', lineWidth: 1},
    border: {display: false},
    ticks: {color: '#7F7F7F', font: tickFont, padding: 4, autoSkip: false, callback: v => String(v)}
  };

  new Chart(cv, {
    type: 'scatter',
    data: {datasets},
    options: {
      responsive: false, animation: false, devicePixelRatio: 1, events: [],
      layout: {padding: {left: isLeft ? 0 : 1, right: 1, top: 1, bottom: isBottom ? 0 : 1}},
      plugins: {legend: {display: false}, tooltip: {enabled: false}, panelDecor: {label: String(obsCounts[idx])}},
      scales: {x: xScale, y: yScale}
    },
    plugins: [decorPlugin]
  });
});
</script>
</body></html>
